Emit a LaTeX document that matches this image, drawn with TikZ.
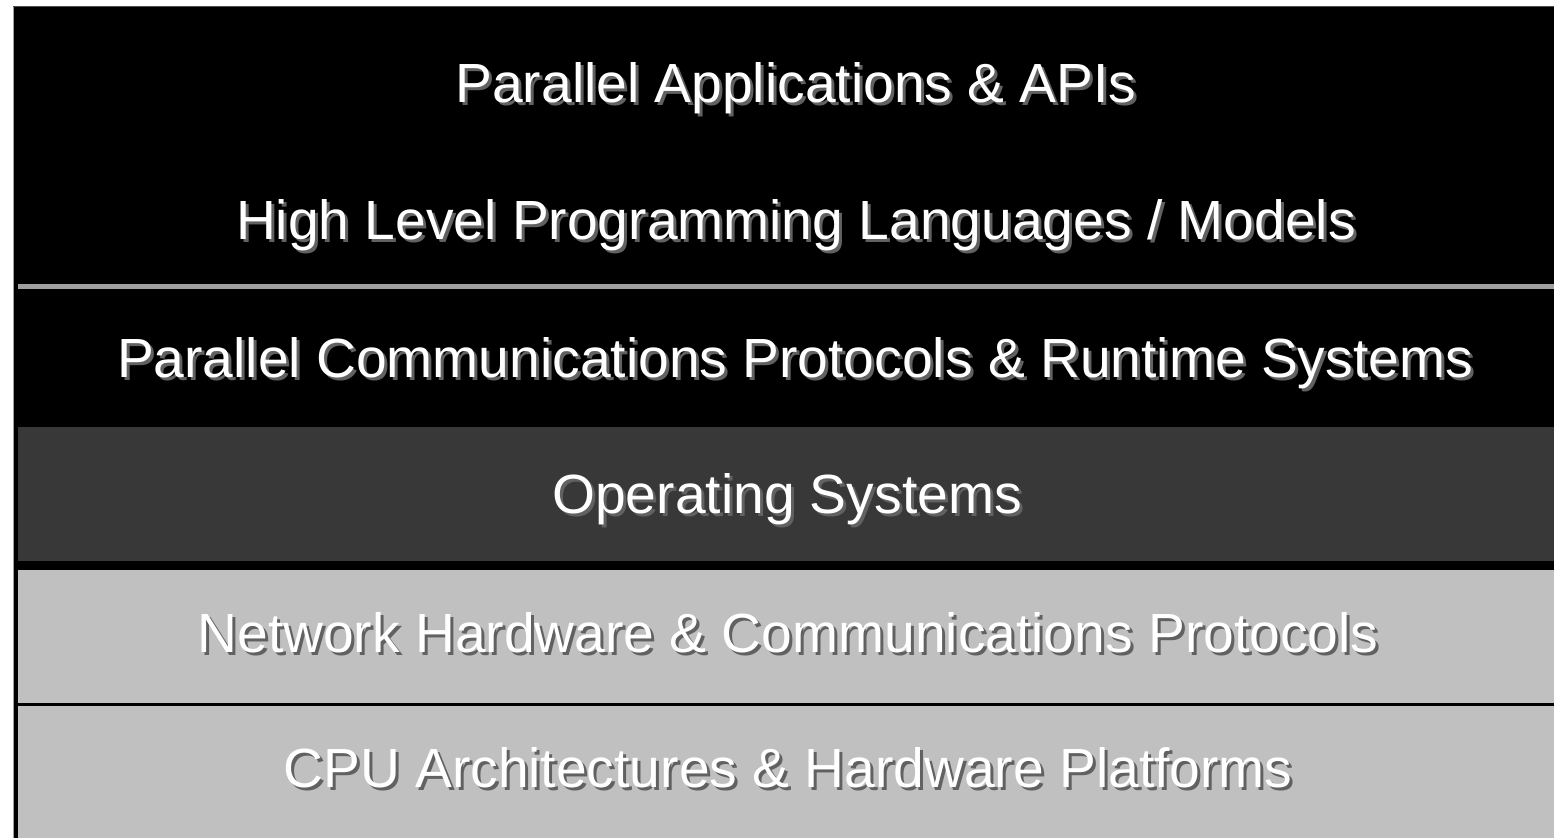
\documentclass[tikz,border=0pt]{standalone}
\usepackage{fontspec}
\setmainfont{Liberation Sans}
\usetikzlibrary{positioning}

\definecolor{osgray}{HTML}{383838}
\definecolor{hwgray}{HTML}{C0C0C0}
\definecolor{linegray}{HTML}{A0A0A0}

\begin{document}
\begin{tikzpicture}[x=0.5pt,y=-0.5pt,
	layer_text/.style={anchor=base,text=white,inner sep=0pt,font=\fontsize{27.6pt}{30pt}\selectfont},
	layer_shadow/.style={layer_text,text=black!62}]
	
	\useasboundingbox (0,0) rectangle (1554,838);
	\fill[white] (0,0) rectangle (1554,838);
	
	% bands
	\fill[black] (13,7) rectangle (1554,838);
	\fill[linegray] (18,284) rectangle (1554,289);
	\fill[osgray] (18,427) rectangle (1554,561);
	\fill[hwgray] (18,570) rectangle (1554,703);
	\fill[hwgray] (18,706) rectangle (1554,838);
	\draw[linegray,line width=0.5pt] (13,7) -- (13,838);
	\draw[black!70,line width=0.5pt] (13,7) -- (1554,7);
	
	% shadows
	\node[layer_shadow] (s1) at (799,106) {Parallel Applications \& APIs};
	\node[layer_shadow] (s2) at (799,243) {High Level Programming Languages / Models};
	\node[layer_shadow] (s3) at (798,381) {Parallel Communications Protocols \& Runtime Systems};
	\node[layer_shadow] (s4) at (790,517) {Operating Systems};
	\node[layer_shadow] (s5) at (791,656) {Network Hardware \& Communications Protocols};
	\node[layer_shadow] (s6) at (791,791) {CPU Architectures \& Hardware Platforms};
	
	% labels
	\node[layer_text] (apps) at (796,103) {Parallel Applications \& APIs};
	\node[layer_text] (lang) at (796,240) {High Level Programming Languages / Models};
	\node[layer_text] (comm) at (795,378) {Parallel Communications Protocols \& Runtime Systems};
	\node[layer_text] (os) at (787,514) {Operating Systems};
	\node[layer_text] (net) at (788,653) {Network Hardware \& Communications Protocols};
	\node[layer_text] (cpu) at (788,788) {CPU Architectures \& Hardware Platforms};
\end{tikzpicture}
\end{document}
